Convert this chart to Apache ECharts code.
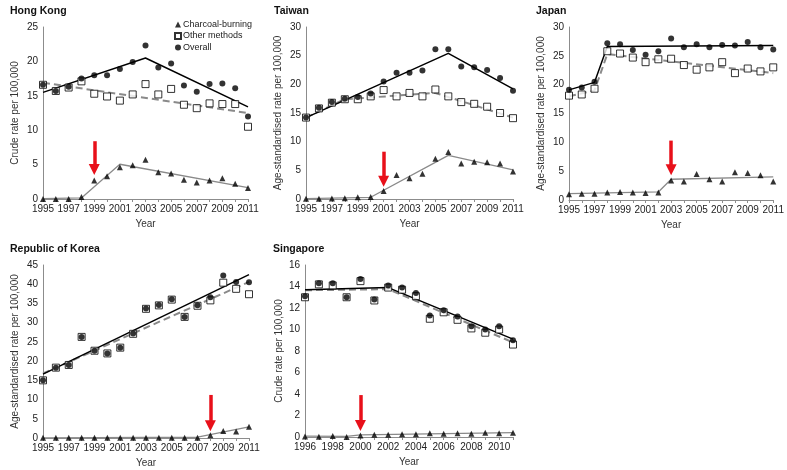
<!DOCTYPE html>
<html><head><meta charset="utf-8">
<script src="https://cdn.jsdelivr.net/npm/echarts@6/dist/echarts.min.js"></script>
<style>html,body{margin:0;padding:0;background:#fff}#c{width:787px;height:470px}</style>
</head><body><div id="c"></div>
<script>
// ---------- DATA ----------
const years9511 = [1995,1996,1997,1998,1999,2000,2001,2002,2003,2004,2005,2006,2007,2008,2009,2010,2011];
const years9611 = [1996,1997,1998,1999,2000,2001,2002,2003,2004,2005,2006,2007,2008,2009,2010,2011];

const hkOverall  = [16.6,15.7,16.3,17.5,18.0,18.0,18.9,19.9,22.3,19.1,19.7,16.5,15.6,16.7,16.8,16.1,12.0];
const hkOther    = [16.6,15.7,16.2,17.1,15.3,14.9,14.3,15.2,16.7,15.2,16.0,13.7,13.2,13.9,13.8,13.8,10.5];
const hkCharcoal = [0,0,0,0.3,2.7,3.3,4.6,4.9,5.7,3.9,3.7,2.8,2.4,2.7,3.0,2.2,1.6];
const hkTrendOverall  = [[1995,15.5],[2003,20.5],[2011,13.4]];
const hkTrendOther    = [[1995,16.9],[2011,12.5]];
const hkTrendCharcoal = [[1995,0.05],[1998,0.15],[2001,5.05],[2011,1.65]];
const hkArrow = [1999, 8.4, 4.3];

const twOverall  = [14.2,15.9,16.9,17.5,17.8,18.4,20.5,22.0,22.0,22.4,26.1,26.1,23.1,23.0,22.5,21.1,18.9];
const twOther    = [14.2,15.8,16.8,17.4,17.4,17.9,19.0,17.9,18.5,17.9,19.1,17.9,16.9,16.6,16.1,15.0,14.1];
const twCharcoal = [0.05,0.05,0.1,0.15,0.3,0.35,1.4,4.2,3.6,4.4,7.0,8.2,6.2,6.5,6.4,6.2,4.8];
const twTrendOverall  = [[1995,14.2],[2006,25.4],[2011,19.2]];
const twTrendOther    = [[1995,14.2],[1998,17.4],[2005,18.5],[2011,14.2]];
const twTrendCharcoal = [[1995,0.05],[2000,0.3],[2006,7.6],[2011,5.1]];
const twArrow = [2001, 8.25, 3.1];

const jpOverall  = [19.1,19.5,20.5,27.2,27.0,26.0,25.2,25.8,28.0,26.5,27.0,26.5,26.9,26.8,27.4,26.5,26.1];
const jpOther    = [18.1,18.3,19.3,25.8,25.4,24.7,23.9,24.4,24.5,23.4,22.6,23.0,23.9,22.0,22.8,22.3,23.0];
const jpCharcoal = [1.0,1.1,1.1,1.3,1.4,1.3,1.2,1.3,3.4,3.2,4.5,3.6,3.2,4.8,4.7,4.3,3.2];
const jpTrendOverall  = [[1995,19.1],[1997,20.4],[1998,26.6],[2011,26.8]];
const jpTrendOther    = [[1995,18.0],[1997,19.0],[1998,25.3],[2011,22.0]];
const jpTrendCharcoal = [[1995,1.1],[2002,1.4],[2003,3.6],[2011,4.0]];
const jpArrow = [2003, 10.3, 5.25];

const krOverall  = [15.0,18.3,19.0,26.3,22.7,22.0,23.5,27.2,33.7,34.6,36.1,31.5,34.5,36.6,42.3,40.6,40.5];
const krOther    = [15.0,18.3,19.0,26.3,22.7,22.0,23.5,27.1,33.6,34.5,36.0,31.5,34.4,35.8,40.4,38.8,37.4];
const krCharcoal = [0.05,0.05,0.05,0.05,0.05,0.05,0.05,0.05,0.05,0.05,0.05,0.05,0.05,0.7,1.8,1.7,2.9];
const krTrendOverall  = [[1995,16.6],[2011,42.5]];
const krTrendOther    = [[1995,16.8],[2011,40.6]];
const krTrendCharcoal = [[1995,0.05],[2007,0.2],[2011,2.9]];
const krArrow = [2008, 11.2, 3.2];

const sgOverall  = [13.1,14.3,14.3,13.0,14.7,12.8,14.1,13.9,13.4,11.3,11.8,11.2,10.3,10.0,10.3,9.0];
const sgOther    = [13.0,14.2,14.1,13.0,14.5,12.7,13.9,13.7,13.1,11.0,11.6,10.9,10.1,9.7,10.0,8.6];
const sgCharcoal = [0.05,0.03,0.1,0.0,0.15,0.2,0.2,0.25,0.25,0.35,0.3,0.35,0.3,0.4,0.35,0.4];
const sgTrendOverall  = [[1996,13.7],[2002,13.9],[2011,9.1]];
const sgTrendOther    = [[1996,13.65],[2002,13.75],[2011,8.8]];
const sgTrendCharcoal = [[1996,0.08],[1999,0.05],[2000,0.2],[2011,0.4]];
const sgArrow = [2000, 3.9, 1.07];

const panels = [
  {title:'Hong Kong', yName:'Crude rate per 100,000', yMax:25, yInt:5, xMin:1995, years:years9511,
   overall:hkOverall, other:hkOther, charcoal:hkCharcoal, tO:hkTrendOverall, tM:hkTrendOther, tC:hkTrendCharcoal, arrow:hkArrow,
   grid:{left:43,top:27,width:205,height:172}, tl:[5,1]},
  {title:'Taiwan', yName:'Age-standardised rate per 100,000', yMax:30, yInt:5, xMin:1995, years:years9511,
   overall:twOverall, other:twOther, charcoal:twCharcoal, tO:twTrendOverall, tM:twTrendOther, tC:twTrendCharcoal, arrow:twArrow,
   grid:{left:306,top:27,width:207,height:172}, tl:[269,1]},
  {title:'Japan', yName:'Age-standardised rate per 100,000', yMax:30, yInt:5, xMin:1995, years:years9511,
   overall:jpOverall, other:jpOther, charcoal:jpCharcoal, tO:jpTrendOverall, tM:jpTrendOther, tC:jpTrendCharcoal, arrow:jpArrow,
   grid:{left:569,top:27,width:206,height:173}, tl:[531,1]},
  {title:'Republic of Korea', yName:'Age-standardised rate per 100,000', yMax:45, yInt:5, xMin:1995, years:years9511,
   overall:krOverall, other:krOther, charcoal:krCharcoal, tO:krTrendOverall, tM:krTrendOther, tC:krTrendCharcoal, arrow:krArrow,
   grid:{left:43,top:265,width:206,height:173}, tl:[5,239]},
  {title:'Singapore', yName:'Crude rate per 100,000', yMax:16, yInt:2, xMin:1996, years:years9611,
   overall:sgOverall, other:sgOther, charcoal:sgCharcoal, tO:sgTrendOverall, tM:sgTrendOther, tC:sgTrendCharcoal, arrow:sgArrow,
   grid:{left:305,top:265,width:208,height:172}, tl:[268,239]}
];

// ---------- CHART ----------
const FONT = "'Liberation Sans', Arial, sans-serif";
const axisGray = '#8c8c8c';
const option = {
  animation:false,
  textStyle:{fontFamily:FONT},
  title:[], grid:[], xAxis:[], yAxis:[], series:[],
  legend:{
    left:174, top:20, orient:'vertical', itemWidth:6, itemHeight:6, itemGap:2.5, padding:0,
    textStyle:{fontSize:9, color:'#222', fontFamily:FONT, padding:[0,0,0,-3]},
    data:[{name:'Charcoal-burning', icon:'triangle'},{name:'Other methods', icon:'rect'},{name:'Overall', icon:'circle'}]
  }
};
const zip = (xs, ys) => xs.map((x,i)=>[x, ys[i]]);
panels.forEach((p, i) => {
  option.title.push({text:p.title, left:p.tl[0], top:p.tl[1], textStyle:{fontSize:10.5, fontWeight:'bold', color:'#111', fontFamily:FONT}});
  option.grid.push(p.grid);
  option.xAxis.push({
    type:'value', gridIndex:i, min:p.xMin, max:2011, interval:2,
    name:'Year', nameLocation:'middle', nameGap:20, nameTextStyle:{fontSize:10, color:'#333'},
    axisLine:{lineStyle:{color:axisGray}},
    axisTick:{show:true, length:3, lineStyle:{color:axisGray}},
    minorTick:{show:true, splitNumber:2, length:3, lineStyle:{color:axisGray}},
    splitLine:{show:false},
    axisLabel:{fontSize:10, color:'#222', margin:5, showMaxLabel: p.xMin===1995, formatter: v => String(v)}
  });
  option.yAxis.push({
    type:'value', gridIndex:i, min:0, max:p.yMax, interval:p.yInt,
    name:p.yName, nameLocation:'middle', nameGap:p.yMax===16 ? 21 : 23, nameRotate:90,
    nameTextStyle:{fontSize:10, color:'#333'},
    axisLine:{show:true, lineStyle:{color:axisGray}},
    axisTick:{show:false},
    splitLine:{show:false},
    axisLabel:{fontSize:10, color:'#222', margin:5}
  });
  const base = {xAxisIndex:i, yAxisIndex:i, silent:true};
  option.series.push(Object.assign({}, base, {
    type:'line', name:'trendCharcoal', data:p.tC, symbol:'none', z:2,
    lineStyle:{color:'#8a8a8a', width:1.3},
    markLine:{
      silent:true, symbol:['none','triangle'], symbolSize:11, label:{show:false},
      lineStyle:{color:'#e8101a', width:3.5, type:'solid'},
      data:[[{coord:[p.arrow[0], p.arrow[1]]},{coord:[p.arrow[0], p.arrow[2]]}]]
    }
  }));
  option.series.push(Object.assign({}, base, {
    type:'line', name:'trendOther', data:p.tM, symbol:'none', z:2,
    lineStyle:{color:'#8a8a8a', width:2, type:[7,4]}
  }));
  option.series.push(Object.assign({}, base, {
    type:'line', name:'trendOverall', data:p.tO, symbol:'none', z:2,
    lineStyle:{color:'#000', width:1.5}
  }));
  option.series.push(Object.assign({}, base, {
    type:'scatter', name:'Charcoal-burning', data:zip(p.years, p.charcoal), symbol:'triangle', symbolSize:6, z:3,
    itemStyle:{color:'#000'}
  }));
  option.series.push(Object.assign({}, base, {
    type:'scatter', name:'Other methods', data:zip(p.years, p.other), symbol:'rect', symbolSize:7, z:3,
    itemStyle:{color:'#fff', borderColor:'#000', borderWidth:1}
  }));
  option.series.push(Object.assign({}, base, {
    type:'scatter', name:'Overall', data:zip(p.years, p.overall), symbol:'circle', symbolSize:6, z:4,
    itemStyle:{color:'#000'}
  }));
});
const chart = echarts.init(document.getElementById('c'));
chart.setOption(option);
</script></body></html>
